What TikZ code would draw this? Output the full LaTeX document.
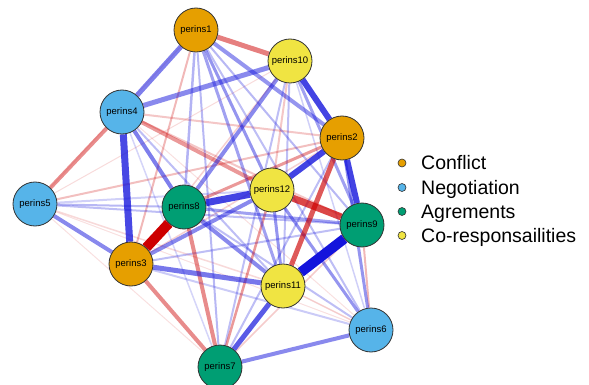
\documentclass[tikz,border=0pt]{standalone}
\usepackage{fontspec}
\setmainfont{Liberation Sans}
\pgfdeclarelayer{background}
\pgfsetlayers{background,main}
\definecolor{conflict}{HTML}{E69F00}
\definecolor{negot}{HTML}{56B4E9}
\definecolor{agree}{HTML}{009E73}
\definecolor{cores}{HTML}{F0E442}
\definecolor{pos}{RGB}{20,20,220}
\definecolor{neg}{RGB}{205,0,0}
\definecolor{rim}{HTML}{333333}
\tikzset{
  pnode/.style={circle, draw=rim, line width=0.8pt, minimum size=44pt, inner sep=0pt, font=\fontsize{9.5}{11}\selectfont},
  legdot/.style={circle, draw=rim, line width=0.6pt, minimum size=8pt, inner sep=0pt},
  legtext/.style={anchor=base west, inner sep=0pt, font=\fontsize{19.5}{22}\selectfont},
}
\begin{document}
\begin{tikzpicture}[x=1pt,y=-1pt]
\useasboundingbox (0,0) rectangle (589,385);
\node[pnode, fill=conflict] (p1) at (196,30) {perins1};
\node[pnode, fill=conflict] (p2) at (342,138) {perins2};
\node[pnode, fill=conflict] (p3) at (131,264) {perins3};
\node[pnode, fill=negot] (p4) at (122,112) {perins4};
\node[pnode, fill=negot] (p5) at (35,204) {perins5};
\node[pnode, fill=negot] (p6) at (371,330) {perins6};
\node[pnode, fill=agree] (p7) at (220,367) {perins7};
\node[pnode, fill=agree] (p8) at (184,207) {perins8};
\node[pnode, fill=agree] (p9) at (362,225) {perins9};
\node[pnode, fill=cores] (p10) at (290,61) {perins10};
\node[pnode, fill=cores] (p11) at (283,286) {perins11};
\node[pnode, fill=cores] (p12) at (272,190) {perins12};
\begin{pgfonlayer}{background}
\foreach \a/\b/\c/\w/\o in {
 1/5/neg/1/0.1, 4/6/neg/1/0.12, 5/6/neg/1/0.12, 5/7/neg/1/0.12, 5/10/neg/1/0.14,
 5/11/neg/1.5/0.15, 2/3/neg/1.5/0.18, 3/10/neg/1.5/0.18, 6/11/neg/1.5/0.2, 7/9/neg/1.5/0.2,
 4/7/pos/1.5/0.18, 6/10/pos/1.5/0.2, 1/3/neg/2/0.28, 2/4/neg/2/0.22, 2/5/neg/2/0.25,
 4/9/neg/2/0.22, 10/12/neg/2/0.22, 6/9/neg/2/0.28, 5/12/pos/2/0.2,
 1/6/pos/2/0.28, 1/7/pos/2/0.3, 1/8/pos/2.5/0.32, 1/9/pos/2/0.3, 2/7/pos/2/0.28,
 3/6/pos/2/0.22, 3/9/pos/2/0.28, 4/11/pos/2/0.28, 5/8/pos/2/0.3, 5/9/pos/2/0.28,
 6/8/pos/2/0.28, 7/10/pos/2/0.28, 10/11/pos/2/0.28,
 7/12/neg/2.5/0.4, 2/8/neg/3/0.4, 1/11/pos/3/0.4, 1/12/pos/3/0.45, 2/6/pos/3/0.45,
 6/12/pos/3/0.45, 8/9/pos/3/0.4, 9/10/pos/3/0.4, 11/12/pos/3/0.45,
 4/12/neg/4/0.4, 4/5/neg/4/0.45, 3/7/neg/4/0.45, 7/8/neg/4/0.45,
 1/2/pos/4/0.45, 3/5/pos/4/0.5, 3/12/pos/4/0.5, 4/8/pos/4/0.55, 6/7/pos/4/0.5,
 8/10/pos/4/0.5, 8/11/pos/4/0.5,
 1/10/neg/5/0.5, 2/11/neg/5/0.65, 1/4/pos/5/0.55, 4/10/pos/5/0.5, 3/11/pos/5/0.58,
 7/11/pos/5/0.7,
 2/9/pos/6/0.8, 2/10/pos/6/0.8, 2/12/pos/6/0.8,
 3/4/pos/7/0.78, 8/12/pos/7/0.8, 9/12/neg/7/0.72,
 9/11/pos/10/1, 3/8/neg/10/1}
 \draw[draw=\c, line width=\w pt, opacity=\o] (p\a) -- (p\b);
\end{pgfonlayer}
\node[legdot, fill=conflict] (d1) at (402,163) {};
\node[legdot, fill=negot] (d2) at (402,187.5) {};
\node[legdot, fill=agree] (d3) at (402,211.5) {};
\node[legdot, fill=cores] (d4) at (402,235.5) {};
\node[legtext] (t1) at (421,170) {Conflict};
\node[legtext] (t2) at (421,194.5) {Negotiation};
\node[legtext] (t3) at (421,218.5) {Agrements};
\node[legtext] (t4) at (421,242.5) {Co-responsailities};
\end{tikzpicture}
\end{document}
